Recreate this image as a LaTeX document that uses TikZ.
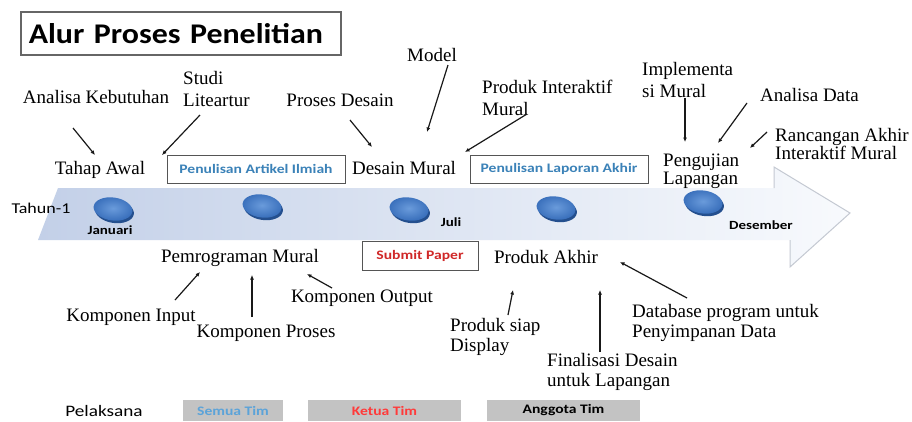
\documentclass[tikz,border=0pt]{standalone}
\usepackage{fontspec}
\setmainfont{Liberation Serif}
\newfontfamily\sansf[FakeStretch=1.2]{Carlito}
\newfontfamily\titlef[FakeStretch=1.12]{Carlito}
\usetikzlibrary{arrows.meta,shapes.geometric,shadows}
\definecolor{shaftL}{HTML}{C3D0E8}
\definecolor{shaftM}{HTML}{DCE5F3}
\definecolor{shaftR}{HTML}{F8FAFD}
\definecolor{headline}{HTML}{C4C9D2}
\definecolor{diskL}{HTML}{6A9BDB}
\definecolor{diskM}{HTML}{3A70BC}
\definecolor{diskD}{HTML}{244F8E}
\definecolor{lblblue}{HTML}{3B82B8}
\definecolor{lblred}{HTML}{D02828}
\definecolor{legblue}{HTML}{5BA3D9}
\definecolor{legred}{HTML}{FF3A3A}
\definecolor{leggray}{HTML}{C3C3C3}
\definecolor{boxline}{HTML}{555555}
\tikzset{
  lab/.style={font=\fontsize{19}{21}\selectfont, inner sep=0pt, align=left},
  labtwo/.style={font=\fontsize{19}{22}\selectfont, inner sep=0pt, align=left, anchor=west},
  labtight/.style={font=\fontsize{19}{18}\selectfont, inner sep=0pt, align=left, anchor=west},
  labmid/.style={font=\fontsize{19}{20}\selectfont, inner sep=0pt, align=left, anchor=west},
  tagbox/.style={draw=boxline, line width=1pt, fill=white, minimum height=28pt, inner sep=0pt, font=\sansf\bfseries\fontsize{13}{15}\selectfont},
  month/.style={font=\sansf\bfseries\fontsize{12.5}{14}\selectfont, inner sep=0pt},
  legbox/.style={fill=leggray, minimum height=21pt, inner sep=0pt, font=\sansf\bfseries\fontsize{13}{15}\selectfont},
  disk/.style={ellipse, minimum width=39pt, minimum height=23pt, inner sep=0pt, rotate=-8,
    inner color=diskL, outer color=diskM,
    drop shadow={shadow xshift=1.5pt, shadow yshift=-2.5pt, fill=diskD, opacity=1}},
  conn/.style={line width=1.2pt, draw=black!90, -{Latex[length=4.5pt,width=4pt]}}
}
\begin{document}
\begin{tikzpicture}[x=1pt,y=-1pt]
\useasboundingbox[fill=white] (0,0) rectangle (912,421);

% timeline arrow
\shade[left color=shaftL, middle color=shaftM, right color=shaftR]
  (58,188) -- (774,188) -- (774,167) -- (850,213) -- (790,267) -- (790,240) -- (38,240) -- cycle;
\draw[headline, line width=1pt] (774,188) -- (774,167) -- (850,213) -- (790,267) -- (790,240);

% title
\node[draw=black!60, line width=1.5pt, anchor=west, text width=304pt, inner xsep=8pt, minimum height=43pt,
      align=left, font=\titlef\bfseries\fontsize{28.5}{30}\selectfont] (title) at (20,33.5) {Alur Proses Penelitian};

% disks
\node[disk] (d1) at (113,209) {};
\node[disk] (d2) at (262,206) {};
\node[disk] (d3) at (409,209) {};
\node[disk] (d4) at (556,208) {};
\node[disk] (d5) at (703,202) {};

% months and year
\node[font=\sansf\fontsize{15}{17}\selectfont, inner sep=0pt] (tahun) at (41,208) {Tahun-1};
\node[month] (jan) at (110,230) {Januari};
\node[month] (jul) at (451,222) {Juli};
\node[month] (des) at (761,225) {Desember};

% top labels
\node[lab] (akeb) at (96,97) {Analisa Kebutuhan};
\node[labtwo] (studi) at (183,89) {Studi\\Liteartur};
\node[lab] (pdes) at (340,100) {Proses Desain};
\node[lab] (model) at (432,55) {Model};
\node[labtwo] (pim) at (482,97.5) {Produk Interaktif\\Mural};
\node[labtwo] (impl) at (642,80) {Implementa\\si Mural};
\node[lab, anchor=west] (adata) at (760,95) {Analisa Data};
\node[labtight] (rakhir) at (775,144) {Rancangan Akhir\\Interaktif Mural};

\node[lab] (tawal) at (100,170) {Tahap Awal};
\node[tagbox, minimum width=178pt, text=lblblue] (artikel) at (256,169) {Penulisan Artikel Ilmiah};
\node[lab] (dmural) at (404,168) {Desain Mural};
\node[tagbox, minimum width=178pt, text=lblblue] (laporan) at (559,169) {Penulisan Laporan Akhir};
\node[labtight] (peng) at (663,171) {Pengujian\\Lapangan};

% bottom labels
\node[lab] (pmural) at (240,258) {Pemrograman Mural};
\node[tagbox, minimum width=116pt, minimum height=29pt, text=lblred] (submit) at (420,255.5) {Submit Paper};
\node[lab] (pakhir) at (546,257) {Produk Akhir};
\node[lab] (kinput) at (131,317) {Komponen Input};
\node[lab] (kproses) at (266,333) {Komponen Proses};
\node[lab] (koutput) at (362,298) {Komponen Output};
\node[labmid] (psiap) at (450,337) {Produk siap\\Display};
\node[labmid] (final) at (547,372) {Finalisasi Desain\\untuk Lapangan};
\node[labmid] (dbase) at (632,323) {Database program untuk\\Penyimpanan Data};

% legend
\node[font=\sansf\fontsize{16}{18}\selectfont, inner sep=0pt] (pel) at (104,411) {Pelaksana};
\node[legbox, minimum width=100pt, text=legblue] (semua) at (233,410.5) {Semua Tim};
\node[legbox, minimum width=153pt, text=legred] (ketua) at (384.5,410.5) {Ketua Tim};
\node[legbox, minimum width=153pt, text=black] (anggota) at (563.5,410.5) {Anggota Tim};

% connector end points
\coordinate (a1s) at (73,128);  \coordinate (a1e) at (95,155);
\coordinate (a2s) at (200,115); \coordinate (a2e) at (162,155);
\coordinate (a3s) at (350,120); \coordinate (a3e) at (372,147);
\coordinate (a4s) at (448,65);  \coordinate (a4e) at (427,132);
\coordinate (a5s) at (527,114); \coordinate (a5e) at (465,152);
\coordinate (a6s) at (685,98);  \coordinate (a6e) at (685,142);
\coordinate (a7s) at (747,103); \coordinate (a7e) at (718,143);
\coordinate (a8s) at (767,132); \coordinate (a8e) at (750,148);
\coordinate (b1s) at (175,300); \coordinate (b1e) at (200,272);
\coordinate (b2s) at (252,317); \coordinate (b2e) at (252,275);
\coordinate (b3s) at (332,288); \coordinate (b3e) at (307,274);
\coordinate (b4s) at (508,315); \coordinate (b4e) at (513,290);
\coordinate (b5s) at (600,352); \coordinate (b5e) at (600,290);
\coordinate (b6s) at (687,298); \coordinate (b6e) at (620,262);

\foreach \c in {a1,a2,a3,a4,a5,a6,a7,a8,b1,b2,b3,b4,b5,b6}
  \draw[conn] (\c s) -- (\c e);
\end{tikzpicture}
\end{document}
